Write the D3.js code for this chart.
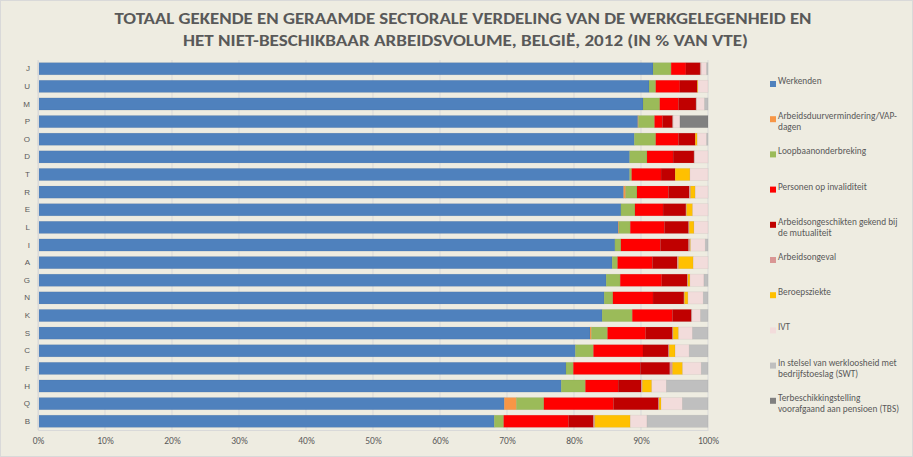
<!DOCTYPE html>
<html>
<head>
<meta charset="utf-8">
<script src="https://cdn.jsdelivr.net/npm/d3@7/dist/d3.min.js"></script>
<style>
  html, body { margin: 0; padding: 0; background: #EEECE1; }
  svg { display: block; }
</style>
</head>
<body>
<div id="chart"></div>
<script>
const categories = ['J', 'U', 'M', 'P', 'O', 'D', 'T', 'R', 'E', 'L', 'I', 'A', 'G', 'N', 'K', 'S', 'C', 'F', 'H', 'Q', 'B']

const werkenden = [91.8, 91.2, 90.3, 89.7, 89.0, 88.3, 88.3, 87.4, 87.0, 86.6, 86.1, 85.7, 84.8, 84.5, 84.2, 82.4, 80.2, 78.8, 78.1, 69.6, 68.1]
const vapDagen = [0, 0, 0, 0.1, 0, 0, 0, 0.3, 0, 0.1, 0, 0, 0, 0, 0, 0.2, 0, 0, 0, 1.8, 0]
const loopbaan = [2.7, 1.0, 2.5, 2.4, 3.2, 2.6, 0.3, 1.7, 2.1, 1.7, 0.9, 0.8, 2.1, 1.3, 4.5, 2.4, 2.7, 1.1, 3.6, 4.1, 1.4]
const invaliditeit = [2.2, 3.6, 2.8, 1.2, 3.4, 3.9, 4.4, 4.7, 4.2, 5.1, 5.9, 5.2, 6.2, 6.0, 6.0, 5.7, 7.4, 10.0, 4.9, 10.4, 9.7]
const arbeidsongeschikt = [2.1, 2.6, 2.6, 1.5, 2.5, 3.1, 2.1, 3.1, 3.4, 3.6, 4.2, 3.7, 3.8, 4.6, 2.8, 4.0, 3.8, 4.4, 3.4, 6.7, 3.7]
const arbeidsongeval = [0.2, 0, 0.1, 0.1, 0, 0.1, 0, 0.2, 0.1, 0.1, 0.2, 0.2, 0.1, 0.1, 0.1, 0.1, 0.1, 0.4, 0.2, 0.1, 0.2]
const beroepsziekte = [0, 0.1, 0, 0, 0.3, 0, 2.2, 0.7, 0.9, 0.7, 0.1, 2.2, 0.3, 0.5, 0, 0.8, 0.9, 1.5, 1.4, 0.3, 5.3]
const ivt = [0.8, 1.5, 1.2, 1.0, 1.4, 2.0, 2.7, 1.9, 2.3, 2.1, 2.2, 2.2, 2.1, 2.3, 1.3, 2.1, 2.1, 2.8, 2.2, 3.2, 2.5]
const swt = [0.2, 0, 0.5, 0, 0.2, 0, 0, 0, 0, 0, 0.4, 0, 0.6, 0.7, 1.1, 2.3, 2.8, 1.0, 6.2, 3.8, 9.1]
const tbs = [0, 0, 0, 4.2, 0, 0, 0, 0, 0, 0, 0, 0, 0, 0, 0, 0, 0, 0, 0, 0, 0]

const xTicks = [0, 0.1, 0.2, 0.3, 0.4, 0.5, 0.6, 0.7, 0.8, 0.9, 1]

const series = [
  { key: 'werkenden', values: werkenden, color: '#4F81BD', lines: ['Werkenden'] },
  { key: 'vap', values: vapDagen, color: '#F79646', lines: ['Arbeidsduurvermindering/VAP-', 'dagen'] },
  { key: 'loopbaan', values: loopbaan, color: '#9BBB59', lines: ['Loopbaanonderbreking'] },
  { key: 'inval', values: invaliditeit, color: '#FF0000', lines: ['Personen op invaliditeit'] },
  { key: 'ongeschikt', values: arbeidsongeschikt, color: '#C00000', lines: ['Arbeidsongeschikten gekend bij', 'de mutualiteit'] },
  { key: 'ongeval', values: arbeidsongeval, color: '#D99694', lines: ['Arbeidsongeval'] },
  { key: 'beroeps', values: beroepsziekte, color: '#FFC000', lines: ['Beroepsziekte'] },
  { key: 'ivt', values: ivt, color: '#F2DCDB', lines: ['IVT'] },
  { key: 'swt', values: swt, color: '#BFBFBF', lines: ['In stelsel van werkloosheid met', 'bedrijfstoeslag (SWT)'] },
  { key: 'tbs', values: tbs, color: '#808080', lines: ['Terbeschikkingstelling', 'voorafgaand aan pensioen (TBS)'] }
]

const width = 913
const height = 457
const textColor = '#595959'

const rows = categories.map((c, i) => {
  const row = { cat: c }
  series.forEach(s => { row[s.key] = s.values[i] })
  return row
})

const svg = d3.select('#chart')
  .append('svg')
  .attr('width', width)
  .attr('height', height)

svg.append('rect')
  .attr('x', 0.5).attr('y', 0.5)
  .attr('width', width - 1).attr('height', height - 1)
  .attr('fill', '#EEECE1')
  .attr('stroke', '#D9D9D9')

// ── TITLE ─────────────────────────────────────────────
const title = svg.append('g')
  .attr('font-family', 'Carlito, "Liberation Sans Narrow", "Liberation Sans", sans-serif')
  .attr('font-weight', 'bold')
  .attr('font-size', 15)
  .attr('fill', textColor)
  .attr('text-anchor', 'middle')

title.append('text')
  .attr('x', 463).attr('y', 24)
  .attr('textLength', 697).attr('lengthAdjust', 'spacingAndGlyphs')
  .text('TOTAAL GEKENDE EN GERAAMDE SECTORALE VERDELING VAN DE WERKGELEGENHEID EN')

title.append('text')
  .attr('x', 465.5).attr('y', 46)
  .attr('textLength', 565).attr('lengthAdjust', 'spacingAndGlyphs')
  .text('HET NIET-BESCHIKBAAR ARBEIDSVOLUME, BELGIË, 2012 (IN % VAN VTE)')

// ── SCALES ────────────────────────────────────────────
const x = d3.scaleLinear().domain([0, 1]).range([38, 708])
const y = d3.scaleBand().domain(categories).range([60, 430]).paddingInner(0.31).paddingOuter(0.15)

// gridlines
svg.append('g')
  .selectAll('line')
  .data(xTicks)
  .join('line')
  .attr('x1', d => x(d)).attr('x2', d => x(d))
  .attr('y1', 60).attr('y2', 430)
  .attr('stroke', '#D9D9D9')
  .attr('stroke-width', 1)

// ── BARS ──────────────────────────────────────────────
const stack = d3.stack()
  .keys(series.map(s => s.key))
  .offset(d3.stackOffsetExpand)

const stacked = stack(rows)

svg.append('g')
  .selectAll('g')
  .data(stacked)
  .join('g')
  .attr('fill', (d, i) => series[i].color)
  .selectAll('rect')
  .data(d => d)
  .join('rect')
  .attr('x', d => x(d[0]))
  .attr('width', d => Math.max(0, x(d[1]) - x(d[0])))
  .attr('y', d => y(d.data.cat))
  .attr('height', y.bandwidth())
  .attr('stroke', 'rgba(0,0,0,0.06)')
  .attr('stroke-width', 0.8)

// ── AXES ──────────────────────────────────────────────
const xAxis = svg.append('g')
  .attr('transform', 'translate(0,430)')
  .call(d3.axisBottom(x).tickValues(xTicks).tickFormat(d3.format('.0%')).tickSize(0).tickPadding(7))
xAxis.select('.domain').attr('stroke', '#D9D9D9')
xAxis.selectAll('text')
  .attr('fill', textColor)
  .attr('font-size', 9.5)
  .attr('font-family', 'Carlito, "Liberation Sans Narrow", "Liberation Sans", sans-serif')

const yAxis = svg.append('g')
  .attr('transform', 'translate(38,0)')
  .call(d3.axisLeft(y).tickSize(0).tickPadding(8))
yAxis.select('.domain').attr('stroke', '#D9D9D9')
yAxis.selectAll('text')
  .attr('fill', textColor)
  .attr('font-size', 8)
  .attr('font-family', '"Liberation Sans", sans-serif')

// ── LEGEND ────────────────────────────────────────────
const legend = svg.append('g')
  .attr('font-family', 'Carlito, "Liberation Sans", sans-serif')
  .attr('font-size', 9.3)
  .attr('fill', textColor)

const legendItems = legend.selectAll('g')
  .data(series)
  .join('g')
  .attr('transform', (d, i) => `translate(770, ${84 + i * 35.2})`)

legendItems.append('rect')
  .attr('x', 0).attr('y', -3)
  .attr('width', 6).attr('height', 6)
  .attr('fill', d => d.color)

legendItems.append('text')
  .attr('x', 8)
  .attr('dy', '0.35em')
  .selectAll('tspan')
  .data(d => d.lines)
  .join('tspan')
  .attr('x', 8)
  .attr('dy', (d, i) => i === 0 ? 0 : 11.2)
  .text(d => d)
</script>
</body>
</html>
